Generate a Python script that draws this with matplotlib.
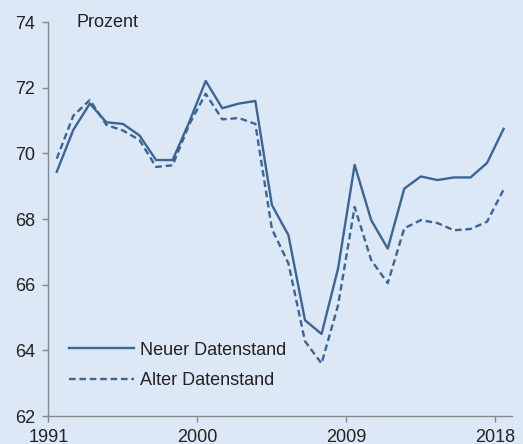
import matplotlib
matplotlib.use("Agg")
import matplotlib.pyplot as plt
import numpy as np

years = np.arange(1991, 2019)
neuer = [69.44, 70.72, 71.52, 70.95, 70.90, 70.55, 69.80, 69.80, 70.95, 72.21,
         71.38, 71.52, 71.60, 68.43, 67.51, 64.92, 64.50, 66.50, 69.65, 67.97,
         67.10, 68.93, 69.30, 69.19, 69.27, 69.27, 69.71, 70.75]
alter = [69.84, 71.15, 71.63, 70.87, 70.70, 70.41, 69.59, 69.64, 70.88, 71.82,
         71.04, 71.08, 70.90, 67.70, 66.65, 64.28, 63.60, 65.38, 68.37, 66.75,
         66.05, 67.72, 67.97, 67.88, 67.66, 67.70, 67.92, 68.90]
xticks = [1991, 2000, 2009, 2018]
yticks = [62, 64, 66, 68, 70, 72, 74]

bg = "#dce8f6"
col = "#3a6595"
plt.rcParams["font.family"] = ["Liberation Sans", "DejaVu Sans"]

fig = plt.figure(figsize=(5.23, 4.44), dpi=100, facecolor=bg)
ax = fig.add_axes([0.0927, 0.063, 0.886, 0.887], facecolor=bg)

ax.plot(years + 0.5, neuer, color=col, lw=1.7, label="Neuer Datenstand")
ax.plot(years + 0.5, alter, color=col, lw=1.7, dashes=(2.8, 1.6), label="Alter Datenstand")

ax.set_xlim(1991, 2019)
ax.set_ylim(62, 74)
ax.set_xticks(xticks)
ax.set_yticks(yticks)
ax.tick_params(labelsize=13, colors="#888888", labelcolor="#222222", length=4, width=1, pad=5.5)
for s in ["top", "right"]:
    ax.spines[s].set_visible(False)
for s in ["left", "bottom"]:
    ax.spines[s].set_color("#888888")
    ax.spines[s].set_linewidth(1)

ax.text(0.06, 1.0, "Prozent", transform=ax.transAxes, fontsize=13,
        color="#222222", va="center", ha="left")

leg = ax.legend(loc="lower left", bbox_to_anchor=(0.029, 0.05), borderaxespad=0,
                frameon=False, fontsize=13, handlelength=3.6, handletextpad=0.35,
                labelspacing=0.75)
for t in leg.get_texts():
    t.set_color("#222222")

fig.savefig("out.png", dpi=100, facecolor=bg)
